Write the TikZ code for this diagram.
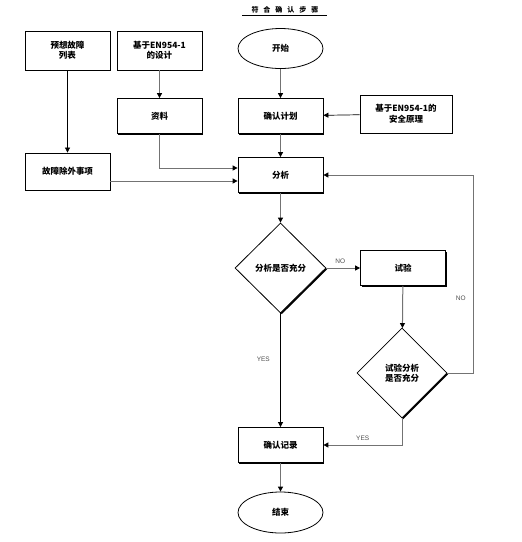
\documentclass[tikz,border=0pt]{standalone}
\usepackage{fontspec}
\newfontfamily\cjk{Noto Sans CJK SC}
\setsansfont{Liberation Sans}
\usetikzlibrary{shapes.geometric,shadows,arrows.meta}
\tikzset{
  box/.style={draw,thick,fill=white,minimum width=85pt,minimum height=35pt,align=center,
    font=\cjk\bfseries\fontsize{8.5}{10.5}\selectfont,
    drop shadow={shadow xshift=1.3pt,shadow yshift=-1.3pt,fill=black,opacity=1}},
  term/.style={ellipse,draw,thick,fill=white,minimum width=85pt,minimum height=40pt,
    font=\cjk\bfseries\fontsize{8.5}{10.5}\selectfont},
  decide/.style={diamond,draw,thick,fill=white,minimum width=91pt,minimum height=90pt,
    inner sep=0pt,align=center,font=\cjk\bfseries\fontsize{8.5}{10.5}\selectfont,
    drop shadow={shadow xshift=1.3pt,shadow yshift=-1.3pt,fill=black,opacity=1}},
  arr/.style={draw=black,line width=0.7pt,-{Triangle[length=5pt,width=5pt,color=black]}},
  garr/.style={draw=black!55,line width=1pt,-{Triangle[length=5pt,width=5pt,color=black]}},
  lbl/.style={font=\sffamily\fontsize{6.5}{8}\selectfont,text=black!70}
}
\begin{document}
\begin{tikzpicture}[x=1pt,y=-1pt]
\useasboundingbox (0,0) rectangle (522,542);
% title
\node[font=\cjk\bfseries\fontsize{7}{9}\selectfont] (title) at (285,10) {符\hspace{5pt}合\hspace{5pt}确\hspace{5pt}认\hspace{5pt}步\hspace{5pt}骤};
\draw[line width=0.8pt] (242,15.5) -- (327,15.5);
% boxes
\node[box,minimum height=39pt] (faults) at (67.5,50.5) {预想故障\\列表};
\node[box,minimum height=39pt] (design) at (159.5,50.5) {基于EN954-1\\的设计};
\node[term] (start) at (280.5,48.5) {开始};
\node[box] (data) at (159.5,116) {资料};
\node[box] (plan) at (280.5,116) {确认计划};
\node[box,minimum width=92pt,minimum height=38pt] (principle) at (406,114) {基于EN954-1的\\安全原理};
\node[box,minimum height=37pt] (excl) at (67.5,171.5) {故障除外事项};
\node[box] (analysis) at (280.5,175) {分析};
\node[decide] (dec1) at (280.5,268) {分析是否充分};
\node[box] (test) at (403,268) {试验};
\node[decide,minimum width=90pt] (dec2) at (402,373) {试验分析\\是否充分};
\node[box] (record) at (280.5,445) {确认记录};
\node[term,minimum height=41pt] (end) at (280.5,512.5) {结束};
% connectors
\coordinate (inB) at ([yshift=7pt]analysis.west);
\coordinate (inA) at ([yshift=-6pt]analysis.west);
\draw[arr] (faults) -- (excl);
\draw[garr] (design) -- (data);
\draw[garr] (start) -- (plan);
\draw[arr] (principle) -- (plan);
\draw[garr] (plan) -- (analysis);
\draw[garr] (data.south) |- (inB);
\draw[garr] (inA -| excl.east) -- (inA);
\draw[garr] (analysis) -- (dec1);
\draw[garr] (dec1.east) -- (test.west) node[lbl,midway,above=1pt,xshift=-3pt] {NO};
\draw[garr] (test) -- (dec2);
\draw[garr] (dec2.east) -- ++(26,0) |- (analysis.east) node[lbl,pos=0.19,left=4pt] {NO};
\draw[arr] (dec1.south) -- (record.north) node[lbl,pos=0.4,left=7pt] {YES};
\draw[garr] (dec2.south) |- (record.east) node[lbl,pos=0.75,above=1pt] {YES};
\draw[garr] (record) -- (end);
\end{tikzpicture}
\end{document}
